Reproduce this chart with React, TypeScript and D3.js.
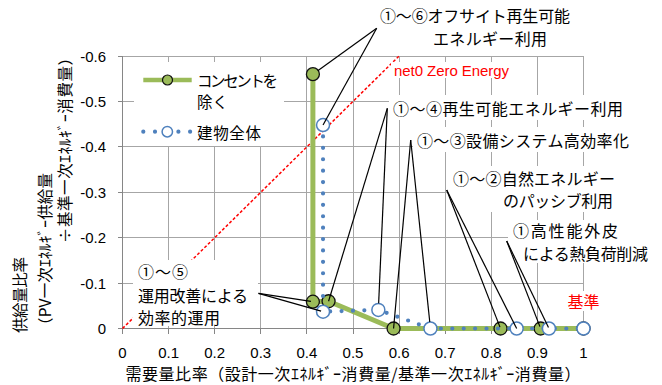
import React from "react";
import * as d3 from "d3";

const W = 662;
const H = 385;

// ---------- data ----------
const xTickValues = [0, 0.1, 0.2, 0.3, 0.4, 0.5, 0.6, 0.7, 0.8, 0.9, 1];
const xTickLabels = ["0", "0.1", "0.2", "0.3", "0.4", "0.5", "0.6", "0.7", "0.8", "0.9", "1"];
const yTickValues = [0, -0.1, -0.2, -0.3, -0.4, -0.5, -0.6];
const yTickLabels = ["0", "-0.1", "-0.2", "-0.3", "-0.4", "-0.5", "-0.6"];

const seriesNames = ["コンセントを除く", "建物全体"];
// steps: ①～⑥, ①～⑤, ①～④, ①～③, ①～②, ①, 基準
const outletExclX = [0.413, 0.413, 0.447, 0.588, 0.82, 0.907, 1.0];
const outletExclY = [-0.56, -0.059, -0.06, 0, 0, 0, 0];
const buildingX = [0.435, 0.435, 0.555, 0.668, 0.855, 0.925, 1.0];
const buildingY = [-0.448, -0.037, -0.041, 0, 0, 0, 0];

const zeroEnergyX = [0, 0.6];
const zeroEnergyY = [0, -0.6];

const xTitle = "需要量比率（設計一次ｴﾈﾙｷﾞｰ消費量/基準一次ｴﾈﾙｷﾞｰ消費量）";
const yTitleLines = ["供給量比率", "（PV一次ｴﾈﾙｷﾞｰ供給量", "÷基準一次ｴﾈﾙｷﾞｰ消費量）"];
const zeroEnergyLabel = "net0 Zero Energy";
const baseLabel = "基準";

// ---------- layout ----------
const GREEN = "#9BBB59";
const BLUE = "#4F81BD";
const RED = "#FF0000";
const GRID = "#A6A6A6";
const AXIS = "#868686";
const JP = "'Noto Sans CJK JP', sans-serif";
const LAT = "'Liberation Sans', Arial, sans-serif";

const x = d3.scaleLinear().domain([0, 1]).range([122.5, 583.5]);
const y = d3.scaleLinear().domain([-0.6, 0]).range([56, 328.5]);
const px = (v: number) => Math.floor(v) + 0.5;

type Target = { s: number; i: number; cut: number };
type Ann = {
  lines: { t: string; x: number; y: number; w: number }[];
  box: [number, number, number, number];
  origin: [number, number];
  targets: Target[];
};

const annotations: Ann[] = [
  {
    lines: [
      { t: "①～⑥オフサイト再生可能", x: 380, y: 15, w: 190 },
      { t: "エネルギー利用", x: 433, y: 38, w: 114 },
    ],
    box: [372, 3, 577, 49],
    origin: [376.7, 28.3],
    targets: [{ s: 0, i: 0, cut: 6 }, { s: 1, i: 0, cut: 0 }],
  },
  {
    lines: [{ t: "①～④再生可能エネルギー利用", x: 393, y: 108.3, w: 230 }],
    box: [389, 95, 628, 120],
    origin: [387.3, 108.3],
    targets: [{ s: 0, i: 2, cut: 0 }, { s: 1, i: 2, cut: 6.5 }],
  },
  {
    lines: [{ t: "①～③設備システム高効率化", x: 417, y: 140, w: 212 }],
    box: [413, 127, 632, 152],
    origin: [410.7, 140],
    targets: [{ s: 0, i: 3, cut: 0 }, { s: 1, i: 3, cut: 6.5 }],
  },
  {
    lines: [
      { t: "①～②自然エネルギー", x: 453, y: 177.5, w: 162 },
      { t: "のパッシブ利用", x: 503, y: 200, w: 110 },
    ],
    box: [448, 166, 620, 212],
    origin: [446.7, 190],
    targets: [{ s: 0, i: 4, cut: 1.5 }, { s: 1, i: 4, cut: 0 }],
  },
  {
    lines: [
      { t: "①高性能外皮", x: 513, y: 230, w: 105 },
      { t: "による熱負荷削減", x: 523, y: 252.5, w: 125 },
    ],
    box: [508, 220, 652, 263],
    origin: [506.7, 241],
    targets: [{ s: 0, i: 5, cut: 2 }, { s: 1, i: 5, cut: 1 }],
  },
  {
    lines: [
      { t: "①～⑤", x: 138, y: 271, w: 50 },
      { t: "運用改善による", x: 138, y: 294.5, w: 110 },
      { t: "効率的運用", x: 138, y: 316.5, w: 82 },
    ],
    box: [133, 260, 258, 326],
    origin: [258.5, 293.3],
    targets: [{ s: 0, i: 1, cut: 2 }, { s: 1, i: 1, cut: 2 }],
  },
];

const seriesX = [outletExclX, buildingX];
const seriesY = [outletExclY, buildingY];

export default function App() {
  const outletPts: [number, number][] = outletExclX.map((v, i) => [v, outletExclY[i]]);
  const buildPts: [number, number][] = buildingX.map((v, i) => [v, buildingY[i]]);
  const line = d3
    .line<[number, number]>()
    .x((d) => x(d[0]))
    .y((d) => y(d[1]));

  const [xMin, xMax] = x.range();
  const [yTop, yBot] = y.range();

  return (
    <svg
      width={W}
      height={H}
      viewBox={`0 0 ${W} ${H}`}
      style={{ position: "absolute", left: 0, top: 0, background: "#fff" }}
    >
      <rect x={0} y={0} width={W} height={H} fill="#fff" />

      {/* grid */}
      <g stroke={GRID} strokeWidth={1} shapeRendering="crispEdges">
        {xTickValues.map((v, i) =>
          i === 0 ? null : (
            <line key={"gx" + i} x1={px(x(v))} x2={px(x(v))} y1={px(yTop)} y2={px(yBot)} />
          )
        )}
        {yTickValues.map((v, i) =>
          i === 0 ? null : (
            <line key={"gy" + i} x1={px(xMin)} x2={px(xMax)} y1={px(y(v))} y2={px(y(v))} />
          )
        )}
      </g>

      {/* axes */}
      <g stroke={AXIS} strokeWidth={1} shapeRendering="crispEdges">
        <line x1={px(xMin)} x2={px(xMin)} y1={px(yTop)} y2={px(yBot)} />
        <line x1={px(xMin)} x2={px(xMax)} y1={px(yBot)} y2={px(yBot)} />
        {yTickValues.map((v, i) => (
          <line key={"ty" + i} x1={px(xMin) - 5} x2={px(xMin)} y1={px(y(v))} y2={px(y(v))} />
        ))}
        {xTickValues.map((v, i) => (
          <line key={"tx" + i} x1={px(x(v))} x2={px(x(v))} y1={px(yBot)} y2={px(yBot) + 5} />
        ))}
      </g>

      {/* tick labels */}
      <g fontFamily={LAT} fontSize={15} fill="#000">
        {yTickValues.map((v, i) => (
          <text key={"ly" + i} x={106} y={y(v)} textAnchor="end" dominantBaseline="central">
            {yTickLabels[i]}
          </text>
        ))}
        {xTickValues.map((v, i) => (
          <text key={"lx" + i} x={x(v)} y={352} textAnchor="middle" dominantBaseline="central">
            {xTickLabels[i]}
          </text>
        ))}
      </g>

      {/* axis titles */}
      <text
        x={(xMin + xMax) / 2}
        y={373}
        fontFamily={JP}
        fontSize={16}
        textAnchor="middle"
        dominantBaseline="central"
        textLength={455}
        lengthAdjust="spacing"
      >
        {xTitle}
      </text>
      <g fontFamily={JP} fontSize={15.5} fill="#000">
        <text transform="translate(18.5,333) rotate(-90)" dominantBaseline="central" textLength={76} lengthAdjust="spacing">
          {yTitleLines[0]}
        </text>
        <text transform="translate(43.5,333) rotate(-90)" dominantBaseline="central" textLength={160} lengthAdjust="spacing">
          {yTitleLines[1]}
        </text>
        <text transform="translate(63.5,243) rotate(-90)" dominantBaseline="central" textLength={193} lengthAdjust="spacing">
          {yTitleLines[2]}
        </text>
      </g>

      {/* net zero energy line */}
      <path
        d={line(zeroEnergyX.map((v, i) => [v, zeroEnergyY[i]]) as [number, number][]) || ""}
        fill="none"
        stroke={RED}
        strokeWidth={1.5}
        strokeDasharray="3 2"
      />

      {/* series 1: コンセントを除く */}
      <path d={line(outletPts) || ""} fill="none" stroke={GREEN} strokeWidth={5} strokeLinejoin="round" />
      {outletPts.map((d, i) => (
        <circle key={"g" + i} cx={x(d[0])} cy={y(d[1])} r={6.5} fill={GREEN} stroke="#111" strokeWidth={1.3} />
      ))}

      {/* series 2: 建物全体 */}
      <path
        d={line(buildPts) || ""}
        fill="none"
        stroke={BLUE}
        strokeWidth={4.2}
        strokeLinecap="round"
        strokeDasharray="0 11.4"
      />
      {buildPts.map((d, i) => (
        <circle key={"b" + i} cx={x(d[0])} cy={y(d[1])} r={6.5} fill="#fff" stroke={BLUE} strokeWidth={1.5} />
      ))}

      {/* labels with white boxes */}
      <rect x={391} y={62} width={121} height={16} fill="#fff" />
      <text x={394} y={70} fontFamily={LAT} fontSize={15} fill={RED} dominantBaseline="central" textLength={115} lengthAdjust="spacing">
        {zeroEnergyLabel}
      </text>
      <rect x={566} y={291} width={37} height={20} fill="#fff" />
      <text x={x(1)} y={301} fontFamily={JP} fontSize={16} fill={RED} textAnchor="middle" dominantBaseline="central">
        {baseLabel}
      </text>

      {annotations.map((a, k) => (
        <g key={"a" + k}>
          <rect x={a.box[0]} y={a.box[1]} width={a.box[2] - a.box[0]} height={a.box[3] - a.box[1]} fill="#fff" />
          {a.lines.map((l, j) => (
            <text
              key={j}
              x={l.x}
              y={l.y}
              fontFamily={JP}
              fontSize={16}
              fill="#000"
              dominantBaseline="central"
              textLength={l.w}
              lengthAdjust="spacing"
            >
              {l.t}
            </text>
          ))}
          {a.targets.map((t, j) => {
            const tx = x(seriesX[t.s][t.i]);
            const ty = y(seriesY[t.s][t.i]);
            const dx = a.origin[0] - tx;
            const dy = a.origin[1] - ty;
            const len = Math.hypot(dx, dy);
            const ex = tx + (dx / len) * t.cut;
            const ey = ty + (dy / len) * t.cut;
            return (
              <line key={"l" + j} x1={a.origin[0]} y1={a.origin[1]} x2={ex} y2={ey} stroke="#000" strokeWidth={1.2} />
            );
          })}
        </g>
      ))}

      {/* legend */}
      <g>
        <rect x={134} y={62} width={150} height={84} fill="#fff" />
        <line x1={143.3} x2={191.7} y1={80} y2={80} stroke={GREEN} strokeWidth={4.5} />
        <circle cx={167.5} cy={80} r={5} fill={GREEN} stroke="#111" strokeWidth={1.2} />
        <text x={197} y={80} fontFamily={JP} fontSize={15.5} dominantBaseline="central" textLength={81} lengthAdjust="spacing">
          {seriesNames[0].slice(0, 6)}
        </text>
        <text x={197} y={100.5} fontFamily={JP} fontSize={15.5} dominantBaseline="central">
          {seriesNames[0].slice(6)}
        </text>
        <line
          x1={143.3}
          x2={191}
          y1={131.7}
          y2={131.7}
          stroke={BLUE}
          strokeWidth={4.2}
          strokeLinecap="round"
          strokeDasharray="0 11.7"
        />
        <circle cx={167.3} cy={131.7} r={5.2} fill="#fff" stroke={BLUE} strokeWidth={1.5} />
        <text x={197} y={131.7} fontFamily={JP} fontSize={15.5} dominantBaseline="central" textLength={64} lengthAdjust="spacing">
          {seriesNames[1]}
        </text>
      </g>
    </svg>
  );
}
